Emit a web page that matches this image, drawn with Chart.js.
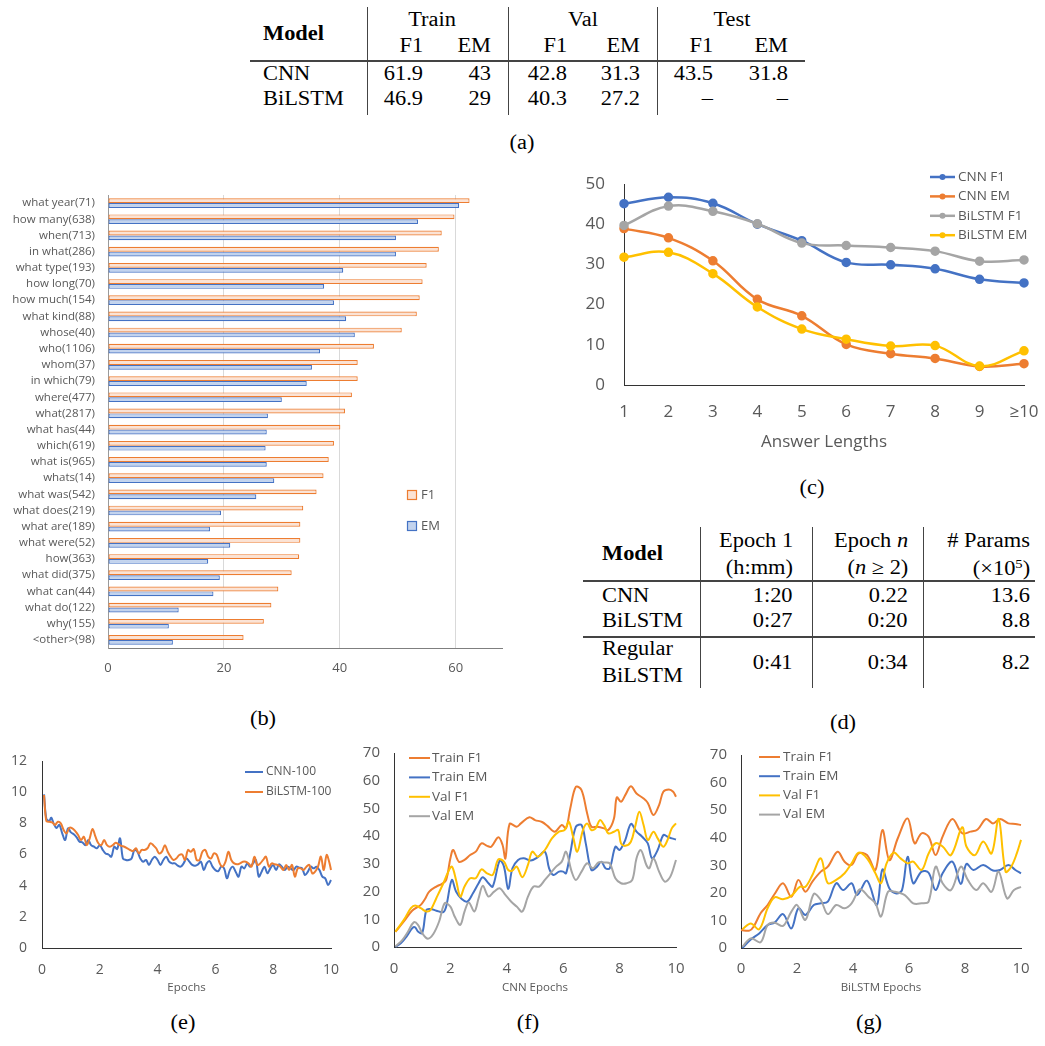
<!DOCTYPE html>
<html>
<head>
<meta charset="utf-8">
<script src="https://cdn.jsdelivr.net/npm/chart.js@4.4.1/dist/chart.umd.min.js"></script>
<style>
  html, body { margin: 0; padding: 0; background: #fff; }
  #page { position: relative; width: 1045px; height: 1046px; overflow: hidden; background: #fff; }
  .t { position: absolute; font-family: 'Liberation Serif', 'Times New Roman', serif; font-size: 20px;
       line-height: 1; white-space: nowrap; color: #000; }
  .b { font-weight: bold; }
  .rule { position: absolute; background: #444; }
  canvas { position: absolute; }
</style>
</head>
<body>
<div id="page">
  <canvas id="chartB" width="510" height="500" style="left:0px;top:190px"></canvas>
  <canvas id="chartC" width="460" height="300" style="left:580px;top:165px"></canvas>
  <canvas id="chartE" width="350" height="250" style="left:0px;top:750px"></canvas>
  <canvas id="chartF" width="345" height="255" style="left:350px;top:745px"></canvas>
  <canvas id="chartG" width="350" height="255" style="left:695px;top:745px"></canvas>
</div>
<script>
// ---- table (a)
const splitNames = ['Train', 'Val', 'Test'];
const metricNames = ['F1', 'EM'];
const tableAModels = ['CNN', 'BiLSTM'];
const tableARows = [
  ['61.9', '43', '42.8', '31.3', '43.5', '31.8'],
  ['46.9', '29', '40.3', '27.2', '–', '–']
];

// ---- table (d)
const tableDModels = ['CNN', 'BiLSTM', 'Regular<br>BiLSTM'];
const epoch1Times = ['1:20', '0:27', '0:41'];
const epochNTimes = ['0.22', '0:20', '0:34'];
const paramCounts = ['13.6', '8.8', '8.2'];

// ---- chart (b): question types
const qTypes = ['what year(71)', 'how many(638)', 'when(713)', 'in what(286)', 'what type(193)',
  'how long(70)', 'how much(154)', 'what kind(88)', 'whose(40)', 'who(1106)', 'whom(37)',
  'in which(79)', 'where(477)', 'what(2817)', 'what has(44)', 'which(619)', 'what is(965)',
  'whats(14)', 'what was(542)', 'what does(219)', 'what are(189)', 'what were(52)', 'how(363)',
  'what did(375)', 'what can(44)', 'what do(122)', 'why(155)', '<other>(98)'];
const qF1 = [62.4, 59.8, 57.6, 57.1, 55.0, 54.3, 53.8, 53.3, 50.7, 45.9, 43.1, 43.1, 42.1, 40.9,
  40.1, 39.0, 38.1, 37.2, 36.0, 33.7, 33.2, 33.2, 33.0, 31.7, 29.4, 28.2, 26.9, 23.4];
const qEM = [60.6, 53.5, 49.7, 49.7, 40.6, 37.3, 39.0, 41.1, 42.6, 36.6, 35.2, 34.3, 30.0, 27.6,
  27.4, 27.2, 27.4, 28.7, 25.6, 19.5, 17.6, 21.1, 17.3, 19.3, 18.2, 12.2, 10.5, 11.2];
const qTicks = [0, 20, 40, 60];

// ---- chart (c): answer lengths
const lenLabels = ['1', '2', '3', '4', '5', '6', '7', '8', '9', '≥10'];
const cnnF1 = [45.1, 46.7, 45.2, 40.0, 35.9, 30.5, 29.9, 28.9, 26.3, 25.4];
const cnnEM = [38.9, 36.6, 30.9, 21.3, 17.2, 10.1, 7.8, 6.6, 4.6, 5.3];
const bilstmF1 = [39.7, 44.5, 43.2, 40.1, 35.3, 34.7, 34.2, 33.3, 30.8, 31.1];
const bilstmEM = [31.8, 33.0, 27.7, 19.4, 13.9, 11.4, 9.7, 9.8, 4.7, 8.5];

// ---- chart (e): loss per epoch [epoch, loss]
const cnnLoss = [[0.07,9.86],[0.15,8.3],[0.25,8.15],[0.32,8.36],[0.4,8.0],[0.5,7.7],[0.6,7.9],[0.7,7.36],
  [0.8,6.93],[0.9,7.68],[1.0,7.42],[1.1,7.3],[1.2,7.1],[1.3,6.82],[1.4,6.78],[1.5,6.6],[1.6,6.93],[1.7,6.6],
  [1.8,6.5],[1.9,6.4],[2.0,6.6],[2.1,6.3],[2.2,6.07],[2.3,6.0],[2.4,5.86],[2.5,6.5],[2.6,6.35],[2.7,7.04],
  [2.8,5.75],[2.9,5.65],[3.0,5.65],[3.1,5.75],[3.2,6.3],[3.3,6.18],[3.4,5.75],[3.5,5.54],[3.6,5.65],[3.7,5.33],
  [3.8,5.65],[3.9,5.86],[4.0,5.65],[4.1,5.33],[4.2,5.65],[4.3,5.86],[4.4,5.54],[4.5,5.43],[4.6,5.43],[4.7,5.28],
  [4.8,5.22],[4.9,5.43],[5.0,5.75],[5.1,5.54],[5.2,5.33],[5.3,5.28],[5.4,5.37],[5.5,5.54],[5.6,5.0],[5.7,5.43],
  [5.8,5.58],[5.9,5.22],[6.0,5.0],[6.1,4.94],[6.2,5.22],[6.3,5.11],[6.4,4.47],[6.5,5.0],[6.6,5.22],[6.7,4.9],
  [6.8,4.58],[6.9,5.22],[7.0,5.11],[7.1,5.43],[7.2,5.22],[7.3,5.43],[7.4,5.65],[7.5,4.58],[7.6,4.9],[7.7,5.22],
  [7.8,4.79],[7.9,5.11],[8.0,5.33],[8.1,5.0],[8.2,5.37],[8.3,5.22],[8.4,5.0],[8.5,5.22],[8.6,5.11],[8.7,5.0],
  [8.8,5.22],[8.9,5.16],[9.0,5.11],[9.1,4.68],[9.2,4.9],[9.3,5.22],[9.4,5.11],[9.5,5.22],[9.6,5.0],[9.7,4.58],
  [9.8,4.47],[9.9,4.04],[10.0,4.36]];
const bilstmLoss = [[0.07,9.82],[0.15,8.15],[0.25,8.1],[0.35,8.06],[0.45,7.9],[0.55,8.1],[0.65,8.0],[0.75,7.57],
  [0.85,7.36],[0.95,7.72],[1.05,7.68],[1.15,7.5],[1.25,7.25],[1.35,6.93],[1.45,7.14],[1.55,6.6],[1.65,7.04],
  [1.75,7.64],[1.85,7.14],[1.95,6.72],[2.05,6.6],[2.15,6.93],[2.25,6.6],[2.35,6.5],[2.45,6.6],[2.55,6.76],
  [2.65,6.65],[2.75,6.55],[2.85,6.5],[2.95,6.4],[3.05,6.29],[3.15,6.22],[3.25,6.4],[3.35,6.07],[3.45,6.29],
  [3.55,6.29],[3.65,6.4],[3.75,6.72],[3.85,6.6],[3.95,6.4],[4.05,6.07],[4.15,6.18],[4.25,6.6],[4.35,6.18],
  [4.45,5.86],[4.55,5.65],[4.65,5.75],[4.75,5.97],[4.85,6.0],[4.95,5.65],[5.05,6.29],[5.15,6.18],[5.25,6.35],
  [5.35,5.65],[5.45,5.65],[5.55,6.18],[5.65,6.29],[5.75,5.86],[5.85,5.75],[5.95,6.07],[6.05,5.97],[6.15,5.43],
  [6.25,5.22],[6.35,5.54],[6.45,6.18],[6.55,5.65],[6.65,5.43],[6.75,5.37],[6.85,5.43],[6.95,5.54],[7.05,5.54],
  [7.15,5.43],[7.25,5.22],[7.35,5.86],[7.45,5.33],[7.55,5.43],[7.65,5.65],[7.75,5.86],[7.85,5.22],[7.95,5.43],
  [8.05,5.37],[8.15,5.33],[8.25,5.22],[8.35,5.0],[8.45,5.33],[8.55,5.0],[8.65,5.33],[8.75,4.58],[8.85,5.11],
  [8.95,5.11],[9.05,5.0],[9.15,5.22],[9.25,5.33],[9.35,4.79],[9.45,4.9],[9.55,5.22],[9.65,5.86],[9.75,5.0],
  [9.85,5.97],[9.95,5.43],[10.0,5.0]];

// ---- chart (f): CNN scores per epoch [epoch, score]
const cnnTrainF1 = [[0.05,5.5],[0.35,9.2],[0.65,13.2],[0.95,15.2],[1.1,17.3],[1.25,20.0],[1.5,21.8],[1.7,22.8],
  [1.85,24.2],[2.0,32.0],[2.1,35.0],[2.3,30.8],[2.5,31.4],[2.7,33.2],[2.9,34.4],[3.1,37.4],[3.3,36.5],[3.45,36.2],
  [3.7,39.6],[3.85,36.8],[3.95,32.0],[4.1,44.4],[4.35,43.4],[4.5,44.6],[4.8,46.8],[5.0,45.8],[5.25,45.1],
  [5.45,43.6],[5.7,41.6],[5.95,44.0],[6.1,42.8],[6.25,50.0],[6.45,57.8],[6.65,56.6],[6.85,48.2],[7.0,43.4],
  [7.2,43.4],[7.45,42.8],[7.6,42.2],[7.8,46.4],[7.9,54.0],[8.05,52.4],[8.2,54.8],[8.4,58.0],[8.6,55.4],
  [8.85,53.6],[9.0,52.0],[9.2,47.6],[9.4,51.2],[9.55,56.0],[9.75,56.8],[9.9,56.0],[10.0,54.2]];
const cnnTrainEM = [[0.05,0],[0.25,1.4],[0.45,3.8],[0.65,6.8],[0.75,7.1],[0.85,5.6],[1.0,5.0],[1.15,13.4],
  [1.3,13.7],[1.5,13.1],[1.75,12.6],[1.85,14.6],[2.05,24.2],[2.2,20.0],[2.4,17.3],[2.6,16.4],[2.8,19.4],
  [3.0,23.0],[3.15,25.2],[3.35,23.0],[3.5,21.8],[3.75,31.2],[3.9,29.0],[4.05,20.9],[4.2,28.4],[4.4,31.4],
  [4.6,32.0],[4.85,31.2],[5.1,32.4],[5.35,34.4],[5.5,28.4],[5.65,26.0],[5.85,27.2],[6.0,27.2],[6.1,26.6],
  [6.25,33.8],[6.45,43.4],[6.65,44.0],[6.8,37.4],[7.0,27.8],[7.2,29.0],[7.35,30.8],[7.5,28.4],[7.65,28.4],
  [7.85,36.2],[8.0,35.0],[8.2,38.6],[8.4,44.4],[8.6,41.6],[8.8,39.8],[9.0,37.4],[9.15,32.0],[9.35,35.0],
  [9.55,40.4],[9.7,39.8],[9.85,39.2],[10.0,38.8]];
const cnnValF1 = [[0.05,5.5],[0.35,9.8],[0.6,14.0],[0.75,15.0],[0.95,14.0],[1.15,12.8],[1.3,13.4],[1.5,17.6],
  [1.75,23.0],[1.9,26.6],[2.05,29.0],[2.2,24.2],[2.35,18.2],[2.5,21.8],[2.7,24.8],[2.9,24.8],[3.1,28.0],
  [3.3,26.6],[3.5,26.0],[3.7,31.6],[3.9,30.8],[4.05,27.8],[4.2,27.6],[4.35,29.0],[4.55,25.2],[4.75,29.6],
  [4.9,34.4],[5.1,32.6],[5.35,35.0],[5.6,39.2],[5.85,41.6],[6.05,42.2],[6.2,45.2],[6.35,39.8],[6.5,34.4],
  [6.7,42.2],[6.85,44.6],[7.0,42.2],[7.15,42.8],[7.3,45.8],[7.45,44.0],[7.6,41.0],[7.8,41.6],[7.95,42.2],
  [8.05,37.4],[8.2,36.5],[8.4,38.0],[8.55,43.4],[8.7,48.8],[8.85,44.0],[9.0,38.6],[9.2,41.6],[9.35,39.2],
  [9.55,36.2],[9.7,38.6],[9.85,42.8],[10.0,44.6]];
const cnnValEM = [[0.05,0.2],[0.3,2.6],[0.5,5.6],[0.7,8.9],[0.85,8.0],[1.0,5.0],[1.2,3.0],[1.4,4.8],[1.6,9.2],
  [1.8,15.8],[2.0,14.6],[2.15,11.0],[2.35,8.0],[2.5,12.8],[2.65,16.1],[2.85,12.8],[3.0,17.6],[3.15,22.1],
  [3.35,18.2],[3.55,20.0],[3.75,21.2],[3.95,18.8],[4.15,16.4],[4.35,14.6],[4.55,12.8],[4.75,18.2],[4.95,21.8],
  [5.15,21.8],[5.35,24.2],[5.55,26.6],[5.75,29.0],[5.95,30.8],[6.1,34.4],[6.3,27.2],[6.45,24.2],[6.65,27.2],
  [6.85,30.2],[7.05,28.4],[7.25,30.5],[7.45,30.5],[7.65,30.2],[7.85,24.8],[8.05,23.0],[8.25,23.0],[8.45,24.2],
  [8.6,32.0],[8.75,35.0],[8.95,29.6],[9.05,28.4],[9.2,32.0],[9.4,27.2],[9.6,23.6],[9.8,25.4],[10.0,31.4]];

// ---- chart (g): BiLSTM scores per epoch [epoch, score]
const bilTrainF1 = [[0.0,6.5],[0.3,6.3],[0.45,7.7],[0.7,12.6],[0.95,15.6],[1.2,19.6],[1.5,23.5],[1.8,18.6],
  [2.05,24.7],[2.3,20.4],[2.55,24.1],[2.85,27.7],[3.1,29.5],[3.45,34.9],[3.7,31.3],[3.95,30.1],[4.2,34.3],
  [4.5,33.7],[4.8,28.3],[5.05,42.8],[5.3,31.9],[5.6,39.8],[5.95,47.0],[6.2,38.0],[6.45,41.6],[6.7,40.4],
  [6.95,33.7],[7.2,40.4],[7.55,46.8],[7.9,41.6],[8.2,42.2],[8.45,43.0],[8.75,46.8],[9.0,45.2],[9.25,46.8],
  [9.55,45.2],[9.8,45.0],[10.0,44.6]];
const bilTrainEM = [[0.05,0],[0.35,3.1],[0.65,5.3],[0.95,8.3],[1.2,9.2],[1.5,12.3],[1.8,7.1],[2.05,14.4],
  [2.3,12.0],[2.6,15.6],[2.85,16.2],[3.1,16.8],[3.4,23.5],[3.65,21.0],[3.95,23.5],[4.15,19.2],[4.5,24.4],
  [4.85,15.6],[5.05,28.5],[5.3,21.6],[5.55,19.8],[5.75,21.0],[5.95,33.1],[6.15,23.5],[6.45,27.7],[6.7,27.3],
  [6.95,21.0],[7.2,27.1],[7.55,31.3],[7.85,23.2],[8.05,30.5],[8.3,28.3],[8.65,30.1],[9.0,28.1],[9.25,28.3],
  [9.55,30.1],[9.8,28.3],[10.0,27.1]];
const bilValF1 = [[0.05,6.8],[0.35,8.9],[0.65,6.8],[0.95,14.4],[1.2,18.4],[1.5,17.7],[1.8,18.9],[2.1,22.2],
  [2.3,22.2],[2.55,26.5],[2.85,32.5],[3.1,23.5],[3.4,24.7],[3.7,27.1],[3.95,30.7],[4.2,34.6],[4.5,32.5],
  [4.8,27.1],[5.0,23.5],[5.2,30.7],[5.45,34.6],[5.7,32.5],[5.95,30.7],[6.15,31.3],[6.45,28.3],[6.7,34.3],
  [6.95,38.0],[7.2,36.8],[7.5,33.7],[7.9,43.8],[8.05,36.8],[8.35,33.7],[8.65,38.6],[8.95,34.3],[9.2,46.8],
  [9.45,27.7],[9.65,29.5],[9.85,34.3],[10.0,39.2]];
const bilValEM = [[0.05,0.5],[0.35,3.5],[0.7,2.1],[0.95,8.3],[1.2,9.2],[1.5,8.0],[1.8,13.2],[2.0,15.6],
  [2.3,10.2],[2.6,19.6],[2.85,17.4],[3.1,12.3],[3.4,15.6],[3.7,14.4],[3.95,16.2],[4.25,21.3],[4.55,18.6],
  [4.8,16.2],[5.0,11.4],[5.25,20.4],[5.5,20.4],[5.85,19.2],[6.15,16.2],[6.45,16.2],[6.7,16.8],[6.95,29.5],
  [7.2,23.5],[7.5,21.0],[7.85,29.5],[8.1,24.7],[8.4,21.0],[8.65,23.5],[8.95,20.4],[9.2,27.7],[9.5,18.0],
  [9.75,21.0],[10.0,22.2]];

const BLUE = '#4472C4', ORANGE = '#ED7D31', GRAY = '#A5A5A5', GOLD = '#FFC000';
const TEXT = '#595959';

// ---- tables and captions as html text
const page = document.getElementById('page');
function put(html, x, y, align, cls) {
  const el = document.createElement('div');
  el.className = 't' + (cls ? ' ' + cls : '');
  el.innerHTML = html;
  el.style.top = y + 'px';
  if (align === 'right') {
    el.style.right = (1045 - x) + 'px';
    el.style.transformOrigin = 'right center';
    el.style.transform = 'translateY(-50%) scaleX(1.12)';
  } else if (align === 'center') {
    el.style.left = x + 'px';
    el.style.transform = 'translate(-50%,-50%) scaleX(1.12)';
  } else {
    el.style.left = x + 'px';
    el.style.transformOrigin = 'left center';
    el.style.transform = 'translateY(-50%) scaleX(1.12)';
  }
  page.appendChild(el);
}
function rule(x, y, w, h) {
  const el = document.createElement('div');
  el.className = 'rule';
  el.style.left = x + 'px'; el.style.top = y + 'px';
  el.style.width = w + 'px'; el.style.height = h + 'px';
  page.appendChild(el);
}

// table (a)
const aRight = [423, 491, 567, 640, 713, 788];
const aGroupMid = [432, 583, 732];
put('Model', 263, 33, 'left', 'b');
splitNames.forEach((s, i) => put(s, aGroupMid[i], 19, 'center'));
aRight.forEach((x, i) => put(metricNames[i % 2], x, 45, 'right'));
tableAModels.forEach((m, r) => {
  const y = 73 + r * 25;
  put(m, 263, y, 'left');
  tableARows[r].forEach((v, i) => put(v, aRight[i], y, 'right'));
});
rule(250, 60, 555, 1.5);
[366.5, 507.5, 656.5].forEach(x => rule(x, 7, 1, 108));
put('(a)', 522, 142, 'center');

// table (d)
put('Model', 602, 553, 'left', 'b');
put('Epoch 1', 793, 540, 'right');
put('(h:mm)', 793, 567, 'right');
put('Epoch <i>n</i>', 908, 540, 'right');
put('(<i>n</i> ≥ 2)', 908, 567, 'right');
put('# Params', 1030, 540, 'right');
put('(×10<sup style="font-size:13px;vertical-align:7px">5</sup>)', 1030, 567, 'right');
rule(583, 580, 452, 1.5);
rule(583, 636, 452, 1.5);
[699.5, 811.5, 922.5].forEach(x => rule(x, 527, 1, 161));
const dRowY = [595, 620, 662];
tableDModels.forEach((m, r) => {
  if (r < 2) put(m, 602, dRowY[r], 'left');
  else { put('Regular', 602, 648, 'left'); put('BiLSTM', 602, 675, 'left'); }
  put(epoch1Times[r], 793, dRowY[r], 'right');
  put(epochNTimes[r], 908, dRowY[r], 'right');
  put(paramCounts[r], 1030, dRowY[r], 'right');
});
put('(d)', 843, 722, 'center');

put('(b)', 263, 718, 'center');
put('(c)', 812, 487, 'center');
put('(e)', 183, 1022, 'center');
put('(f)', 528, 1022, 'center');
put('(g)', 869, 1022, 'center');

// ---- legend drawn inside the plot
const insideLegend = {
  id: 'insideLegend',
  afterDraw(chart, args, o) {
    const ctx = chart.ctx;
    ctx.save();
    ctx.font = o.font;
    ctx.textBaseline = 'middle';
    chart.data.datasets.forEach((ds, i) => {
      const y = o.y + i * o.rowH;
      if (o.box) {
        ctx.fillStyle = ds.backgroundColor;
        ctx.fillRect(o.x, y - o.box / 2, o.box, o.box);
        ctx.strokeStyle = ds.borderColor;
        ctx.lineWidth = 1.2;
        ctx.strokeRect(o.x + 0.5, y - o.box / 2 + 0.5, o.box - 1, o.box - 1);
      } else {
        ctx.strokeStyle = ds.borderColor;
        ctx.lineWidth = o.lineWidth;
        ctx.beginPath();
        ctx.moveTo(o.x, y);
        ctx.lineTo(o.x + o.lineLen, y);
        ctx.stroke();
        if (o.point) {
          ctx.fillStyle = ds.borderColor;
          ctx.beginPath();
          ctx.arc(o.x + o.lineLen / 2, y, o.point, 0, Math.PI * 2);
          ctx.fill();
        }
      }
      ctx.fillStyle = TEXT;
      ctx.fillText(ds.label, o.textX, y);
    });
    ctx.restore();
  }
};

Chart.defaults.font.family = "'Open Sans', sans-serif";
Chart.defaults.color = TEXT;

const f = size => ({ family: "'Open Sans', sans-serif", size: size });
const noGrid = { display: false, drawTicks: false };
// fixed axis boxes, and no extra label padding pushed into the layout
const fixW = w => s => { s.width = w; s.paddingTop = 0; s.paddingBottom = 0; };
const fixH = h => s => { s.height = h; s.paddingLeft = 0; s.paddingRight = 0; };

// (b) bars
new Chart(document.getElementById('chartB'), {
  type: 'bar',
  data: {
    labels: qTypes,
    datasets: [
      { label: 'F1', data: qF1, backgroundColor: '#FBE3D5', borderColor: ORANGE, borderWidth: 1.2,
        borderSkipped: false, categoryPercentage: 0.6, barPercentage: 1.0 },
      { label: 'EM', data: qEM, backgroundColor: '#C2D3EE', borderColor: BLUE, borderWidth: 1.2,
        borderSkipped: false, categoryPercentage: 0.6, barPercentage: 1.0 }
    ]
  },
  options: {
    indexAxis: 'y',
    responsive: false,
    animation: false,
    layout: { padding: { top: 5, right: 8, left: 0, bottom: 0 } },
    plugins: {
      legend: { display: false },
      tooltip: { enabled: false },
      insideLegend: { box: 10, x: 407, y: 305, rowH: 31, textX: 421, font: "13px 'Open Sans'" }
    },
    scales: {
      x: {
        min: 0, max: 68,
        afterBuildTicks: s => { s.ticks = qTicks.map(v => ({ value: v })); },
        ticks: { padding: 12, font: f(13), color: TEXT },
        grid: { drawTicks: false, color: c => (c.tick && c.tick.value === 0) ? 'rgba(0,0,0,0)' : '#D9D9D9' },
        border: { display: true, color: '#7F7F7F' },
        afterFit: fixH(42)
      },
      y: {
        ticks: { autoSkip: false, padding: 13, font: f(11.5), color: TEXT },
        grid: noGrid,
        border: { display: true, color: '#9A9A9A' },
        afterFit: fixW(108)
      }
    }
  },
  plugins: [insideLegend]
});

// (c) answer lengths
const lineC = (label, data, color, order) => ({
  label, data, borderColor: color, backgroundColor: color, pointBackgroundColor: color,
  pointBorderColor: color, pointRadius: 3.5, borderWidth: 2.5, tension: 0.4, clip: false, order
});
new Chart(document.getElementById('chartC'), {
  type: 'line',
  data: {
    labels: lenLabels,
    datasets: [
      lineC('CNN F1', cnnF1, BLUE, 3),
      lineC('CNN EM', cnnEM, ORANGE, 2),
      lineC('BiLSTM F1', bilstmF1, GRAY, 1),
      lineC('BiLSTM EM', bilstmEM, GOLD, 0)
    ]
  },
  options: {
    responsive: false,
    animation: false,
    layout: { padding: { top: 19, right: 16, left: 0, bottom: 0 } },
    plugins: {
      legend: { display: false },
      tooltip: { enabled: false },
      insideLegend: { x: 350, y: 12, rowH: 19.4, lineLen: 25, lineWidth: 2.5, point: 3, textX: 378,
        font: "13.5px 'Open Sans'" }
    },
    scales: {
      x: {
        ticks: { padding: 17, font: f(17), color: TEXT, maxRotation: 0 },
        grid: noGrid,
        border: { display: true, color: '#333' },
        title: { display: true, text: 'Answer Lengths', font: f(17), color: TEXT, padding: { top: 0, bottom: 13 } },
        afterFit: fixH(80)
      },
      y: {
        min: 0, max: 50,
        ticks: { stepSize: 10, padding: 19, font: f(17), color: TEXT },
        grid: noGrid,
        border: { display: true, color: '#333' },
        afterFit: fixW(44)
      }
    }
  },
  plugins: [insideLegend]
});

// (e), (f), (g) epoch curves
const lineE = (label, data, color, order) => ({
  label, data, borderColor: color, backgroundColor: color, pointRadius: 0,
  borderWidth: 2, tension: 0.35, clip: false, order
});
function epochChart(id, datasets, o) {
  return new Chart(document.getElementById(id), {
    type: 'line',
    data: { datasets },
    options: {
      responsive: false,
      animation: false,
      layout: { padding: { top: o.top, right: o.right, left: 0, bottom: 0 } },
      plugins: {
        legend: { display: false },
        tooltip: { enabled: false },
        insideLegend: o.legend
      },
      scales: {
        x: {
          type: 'linear', min: 0, max: 10,
          ticks: { stepSize: 2, padding: o.xPad, font: f(o.tick), color: TEXT },
          grid: noGrid,
          border: { display: true, color: '#333' },
          title: { display: true, text: o.title, font: f(11.5), color: TEXT, padding: { top: 0, bottom: 5 } },
          afterFit: fixH(o.xHeight)
        },
        y: {
          min: 0, max: o.yMax,
          ticks: { stepSize: o.yStep, padding: o.yPad, font: f(o.tick), color: TEXT },
          grid: noGrid,
          border: { display: true, color: '#333' },
          afterFit: fixW(o.yWidth)
        }
      }
    },
    plugins: [insideLegend]
  });
}

epochChart('chartE', [
  lineE('CNN-100', cnnLoss, BLUE, 1),
  lineE('BiLSTM-100', bilstmLoss, ORANGE, 0)
], { top: 11, right: 19, xHeight: 52, yWidth: 42, yMax: 12, yStep: 2, tick: 14, xPad: 14, yPad: 15,
  title: 'Epochs',
  legend: { x: 245, y: 22, rowH: 20, lineLen: 18, lineWidth: 2, textX: 266, font: "12px 'Open Sans'" } });

epochChart('chartF', [
  lineE('Train F1', cnnTrainF1, ORANGE, 3),
  lineE('Train EM', cnnTrainEM, BLUE, 2),
  lineE('Val F1', cnnValF1, GOLD, 1),
  lineE('Val EM', cnnValEM, GRAY, 0)
], { top: 8, right: 19, xHeight: 53, yWidth: 44, yMax: 70, yStep: 10, tick: 15, xPad: 13, yPad: 14,
  title: 'CNN Epochs',
  legend: { x: 59, y: 13, rowH: 19.4, lineLen: 21, lineWidth: 2, textX: 82, font: "13.5px 'Open Sans'" } });

epochChart('chartG', [
  lineE('Train F1', bilTrainF1, ORANGE, 3),
  lineE('Train EM', bilTrainEM, BLUE, 2),
  lineE('Val F1', bilValF1, GOLD, 1),
  lineE('Val EM', bilValEM, GRAY, 0)
], { top: 10, right: 24, xHeight: 52, yWidth: 46, yMax: 70, yStep: 10, tick: 15, xPad: 12, yPad: 14,
  title: 'BiLSTM Epochs',
  legend: { x: 64, y: 12, rowH: 19.2, lineLen: 21, lineWidth: 2, textX: 88, font: "13.5px 'Open Sans'" } });
</script>
</body>
</html>
